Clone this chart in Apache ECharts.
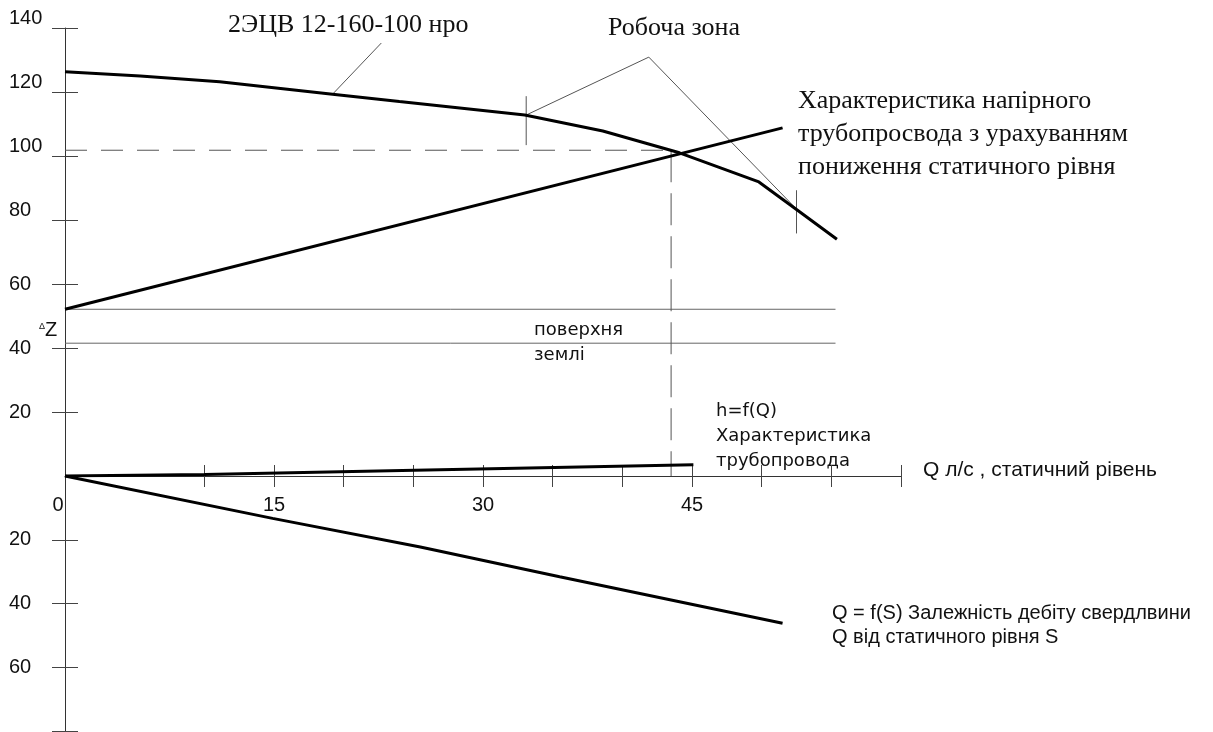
<!DOCTYPE html>
<html>
<head>
<meta charset="utf-8">
<script src="https://cdn.jsdelivr.net/npm/echarts@6/dist/echarts.min.js"></script>
<style>html,body{margin:0;padding:0;background:#fff}#c{width:1213px;height:732px}</style>
</head>
<body>
<div id="c"></div>
<script>
// ---- data ----
const xTickValues = [10, 15, 20, 25, 30, 35, 40, 45, 50, 55, 60];
const xLabelValues = [0, 15, 30, 45];
const yTickValuesUp = [20, 40, 60, 80, 100, 120, 140];
const yLabelValuesUp = [20, 40, 60, 80, 100, 120, 140];
const yTickValuesDown = [20, 40, 60, 80];
const yLabelValuesDown = [20, 40, 60];

// pump head curve 2ЭЦВ 12-160-100 (Q, H)
const pumpQ = [0, 5.4, 11.1, 19.2, 24, 33, 38.6, 44.1, 49.8, 52.5, 55.4];
const pumpH = [126.3, 125, 123.2, 119.3, 117, 112.8, 107.8, 101, 91.9, 83.3, 74];
// discharge pipeline characteristic incl. drawdown
const pipeQ = [0, 51.5];
const pipeH = [52.1, 108.8];
// h = f(Q) pipeline losses
const lossQ = [0, 10, 24.2, 45.1];
const lossH = [0, 0.5, 1.7, 3.5];
// Q = f(S) well yield vs static level depth (drawn below the Q axis)
const wellQ = [0, 14.9, 25.5, 35.5, 51.5];
const wellS = [0, 13.3, 22.3, 31.6, 46.2];
// ground surface band
const groundTop = 52.1;
const groundBottom = 41.5;
const groundEndQ = 55.3;
// operating point
const opQ = 43.5;
const opH = 101.8;
// working zone limits and leader apex
const zoneLeftQ = 33.1, zoneLeftH = 112.8;
const zoneRightQ = 52.5, zoneRightH = 83.4;
const zoneApexQ = 41.9, zoneApexH = 130.9;
const zoneLeftTick = [118.7, 103.4];
const zoneRightTick = [89.3, 75.8];
// pump label leader
const pumpLeaderQ = [19.2, 22.7];
const pumpLeaderH = [119.3, 135.3];

const zip = (a, b) => a.map((v, i) => [v, b[i]]);

const sans = 'Liberation Sans, Arial, sans-serif';
const serif = 'Liberation Serif, Times New Roman, serif';
const wide = 'DejaVu Sans, sans-serif';

function thick(data, extra) {
  return Object.assign({ type: 'line', data, symbol: 'none', silent: true,
    lineStyle: { color: '#000', width: 3 }, z: 5 }, extra || {});
}
function thin(data, extra) {
  return Object.assign({ type: 'line', data, symbol: 'none', silent: true,
    lineStyle: { color: '#555', width: 1 }, z: 3 }, extra || {});
}

const axisColor = '#333';
const tickColor = '#444';
const labelFont = { color: '#111', fontFamily: sans, fontSize: 20 };

function yAxisPair(grid, min, max, inverse, ticks, labels, richUp) {
  return [
    { type: 'value', gridIndex: grid, min, max, interval: 20, inverse, position: 'left',
      axisLine: { show: true, onZero: false, lineStyle: { color: axisColor, width: 1 } },
      axisTick: { show: true, inside: false, length: 13, customValues: ticks, lineStyle: { color: tickColor } },
      axisLabel: Object.assign({ show: true, customValues: labels, margin: 56, align: 'left',
        formatter: v => (richUp && v >= 80) ? '{hi|' + v + '}' : String(v),
        rich: { hi: Object.assign({ padding: [0, 0, 20, 0] }, labelFont) } }, labelFont),
      splitLine: { show: false } },
    { type: 'value', gridIndex: grid, min, max, interval: 20, inverse, position: 'left', offset: 0,
      axisLine: { show: true, onZero: false, lineStyle: { opacity: 0 } },
      axisTick: { show: true, inside: true, length: 13, customValues: ticks, lineStyle: { color: tickColor } },
      axisLabel: { show: false }, splitLine: { show: false } }
  ];
}

const chart = echarts.init(document.getElementById('c'), null, { renderer: 'canvas' });
const option = {
  animation: false,
  backgroundColor: '#fff',
  grid: [
    { left: 65, right: 312, top: 28, bottom: 256, containLabel: false, outerBoundsMode: 'none' },
    { left: 65, right: 312, top: 476, bottom: 1, containLabel: false, outerBoundsMode: 'none' }
  ],
  xAxis: [
    { type: 'value', gridIndex: 0, position: 'bottom', min: 0, max: 60, interval: 5,
      axisLine: { show: true, onZero: false, lineStyle: { color: axisColor, width: 1 } },
      axisTick: { show: true, inside: false, length: 11, customValues: xTickValues, lineStyle: { color: tickColor } },
      axisLabel: Object.assign({ show: true, customValues: xLabelValues, margin: 19,
        formatter: v => v === 0 ? '{z|0}' : String(v),
        rich: { z: Object.assign({ padding: [0, 14, 0, 0] }, labelFont) } }, labelFont),
      splitLine: { show: false } },
    { type: 'value', gridIndex: 0, position: 'bottom', offset: 0, min: 0, max: 60, interval: 5,
      axisLine: { show: true, onZero: false, lineStyle: { opacity: 0 } },
      axisTick: { show: true, inside: true, length: 11, customValues: xTickValues, lineStyle: { color: tickColor } },
      axisLabel: { show: false }, splitLine: { show: false } },
    { type: 'value', gridIndex: 1, position: 'top', min: 0, max: 60, interval: 5, show: false }
  ],
  yAxis: [].concat(
    yAxisPair(0, 0, 140, false, yTickValuesUp, yLabelValuesUp, true),
    yAxisPair(1, 0, 80, true, yTickValuesDown, yLabelValuesDown, false)
  ),
  series: [
    thin([[0, groundTop], [groundEndQ, groundTop]], { lineStyle: { color: '#666', width: 1 } }),
    thin([[0, groundBottom], [groundEndQ, groundBottom]], { lineStyle: { color: '#666', width: 1 } }),
    thin([[0, opH], [opQ, opH]], { lineStyle: { color: '#555', width: 1, type: [22, 14] } }),
    thin([[opQ, opH], [opQ, 0]], { lineStyle: { color: '#555', width: 1, type: [32, 11] } }),
    thin(zip(pumpLeaderQ, pumpLeaderH)),
    thin([[zoneLeftQ, zoneLeftH], [zoneApexQ, zoneApexH], [zoneRightQ, zoneRightH]]),
    thin([[zoneLeftQ, zoneLeftTick[0]], [zoneLeftQ, zoneLeftTick[1]]]),
    thin([[zoneRightQ, zoneRightTick[0]], [zoneRightQ, zoneRightTick[1]]]),
    thick(zip(pumpQ, pumpH)),
    thick(zip(pipeQ, pipeH)),
    thick(zip(lossQ, lossH)),
    thick(zip(wellQ, wellS), { xAxisIndex: 2, yAxisIndex: 2 })
  ],
  graphic: [
    { type: 'text', left: 228, top: 12, style: { text: '2ЭЦВ 12-160-100 нро', font: '26px ' + serif, fill: '#111' } },
    { type: 'text', left: 608, top: 15, style: { text: 'Робоча зона', font: '26px ' + serif, fill: '#111' } },
    { type: 'text', left: 798, top: 85, style: { text: 'Характеристика напірного\nтрубопросвода з урахуванням\nпониження статичного рівня',
        font: '26px ' + serif, lineHeight: 33, fill: '#111' } },
    { type: 'text', left: 39, top: 320, style: { text: '{d|Δ}{z|Z}',
        rich: { d: { fontSize: 9, fontFamily: sans, fill: '#111', padding: [0, 0, 6, 0] }, z: { fontSize: 20, fontFamily: sans, fill: '#111' } } } },
    { type: 'text', left: 534, top: 321, style: { text: 'поверхня', font: '18px ' + wide, fill: '#111' } },
    { type: 'text', left: 534, top: 346, style: { text: 'землі', font: '18px ' + wide, fill: '#111' } },
    { type: 'text', left: 716, top: 399, style: { text: 'h=f(Q)\nХарактеристика\nтрубопровода', font: '18px ' + wide, lineHeight: 25, fill: '#111' } },
    { type: 'text', left: 923, top: 460, style: { text: 'Q л/с , статичний рівень', font: '21px ' + sans, fill: '#111' } },
    { type: 'text', left: 832, top: 601, style: { text: 'Q = f(S) Залежність дебіту свердлвини\nQ від статичного рівня S', font: '20px ' + sans, lineHeight: 24, fill: '#111' } }
  ]
};
chart.setOption(option);
</script>
</body>
</html>
